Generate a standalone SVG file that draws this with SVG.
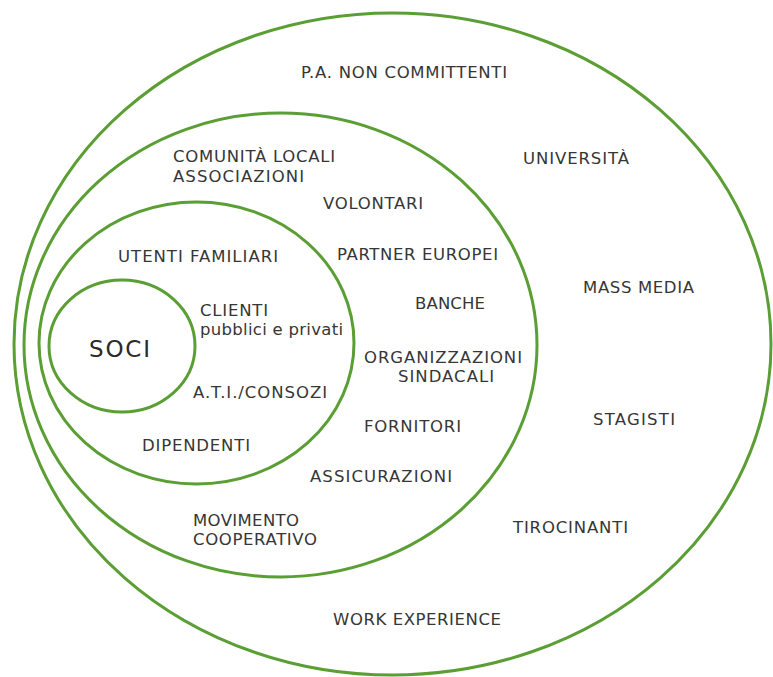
<svg xmlns="http://www.w3.org/2000/svg" width="773" height="677" viewBox="0 0 773 677">
<style>
.ring{fill:none;stroke:#5a9e34;stroke-width:3}
.lbl{font-family:"DejaVu Sans","Liberation Sans",sans-serif;font-size:16.5px;fill:#363636}
.big{font-size:23px;fill:#2a2a2a}
</style>
<rect width="773" height="677" fill="#ffffff"/>
<g id="connectors"/>
<g id="ring-outer">
<ellipse class="ring" cx="392.5" cy="344" rx="378.5" ry="331"/>
<text class="lbl" x="301" y="78" textLength="206" lengthAdjust="spacing">P.A. NON COMMITTENTI</text>
<text class="lbl" x="523" y="164" textLength="106" lengthAdjust="spacing">UNIVERSITÀ</text>
<text class="lbl" x="583" y="293" textLength="111" lengthAdjust="spacing">MASS MEDIA</text>
<text class="lbl" x="593" y="425" textLength="82" lengthAdjust="spacing">STAGISTI</text>
<text class="lbl" x="513" y="533" textLength="115" lengthAdjust="spacing">TIROCINANTI</text>
<text class="lbl" x="333" y="625" textLength="168" lengthAdjust="spacing">WORK EXPERIENCE</text>
</g>
<g id="ring-2">
<ellipse class="ring" cx="280.5" cy="345" rx="256.5" ry="232"/>
<text class="lbl" x="173" y="162" textLength="162" lengthAdjust="spacing">COMUNITÀ LOCALI</text>
<text class="lbl" x="173" y="182" textLength="131" lengthAdjust="spacing">ASSOCIAZIONI</text>
<text class="lbl" x="323" y="209" textLength="100" lengthAdjust="spacing">VOLONTARI</text>
<text class="lbl" x="337" y="260" textLength="161" lengthAdjust="spacing">PARTNER EUROPEI</text>
<text class="lbl" x="415" y="309" textLength="70" lengthAdjust="spacing">BANCHE</text>
<text class="lbl" x="364" y="363" textLength="158" lengthAdjust="spacing">ORGANIZZAZIONI</text>
<text class="lbl" x="398" y="382" textLength="96" lengthAdjust="spacing">SINDACALI</text>
<text class="lbl" x="364" y="432" textLength="97" lengthAdjust="spacing">FORNITORI</text>
<text class="lbl" x="310" y="482" textLength="142" lengthAdjust="spacing">ASSICURAZIONI</text>
<text class="lbl" x="193" y="526" textLength="106" lengthAdjust="spacing">MOVIMENTO</text>
<text class="lbl" x="193" y="545" textLength="124" lengthAdjust="spacing">COOPERATIVO</text>
</g>
<g id="ring-3">
<ellipse class="ring" cx="196.5" cy="343" rx="157.5" ry="141"/>
<text class="lbl" x="118" y="262" textLength="160" lengthAdjust="spacing">UTENTI FAMILIARI</text>
<text class="lbl" x="200" y="316" textLength="68" lengthAdjust="spacing">CLIENTI</text>
<text class="lbl" x="200" y="335" textLength="143" lengthAdjust="spacing">pubblici e privati</text>
<text class="lbl" x="193" y="398" textLength="134" lengthAdjust="spacing">A.T.I./CONSOZI</text>
<text class="lbl" x="142" y="451" textLength="108" lengthAdjust="spacing">DIPENDENTI</text>
</g>
<g id="ring-soci">
<ellipse class="ring" cx="122" cy="346" rx="73" ry="66"/>
<text class="lbl big" x="89" y="357" textLength="61" lengthAdjust="spacing">SOCI</text>
</g>
</svg>
